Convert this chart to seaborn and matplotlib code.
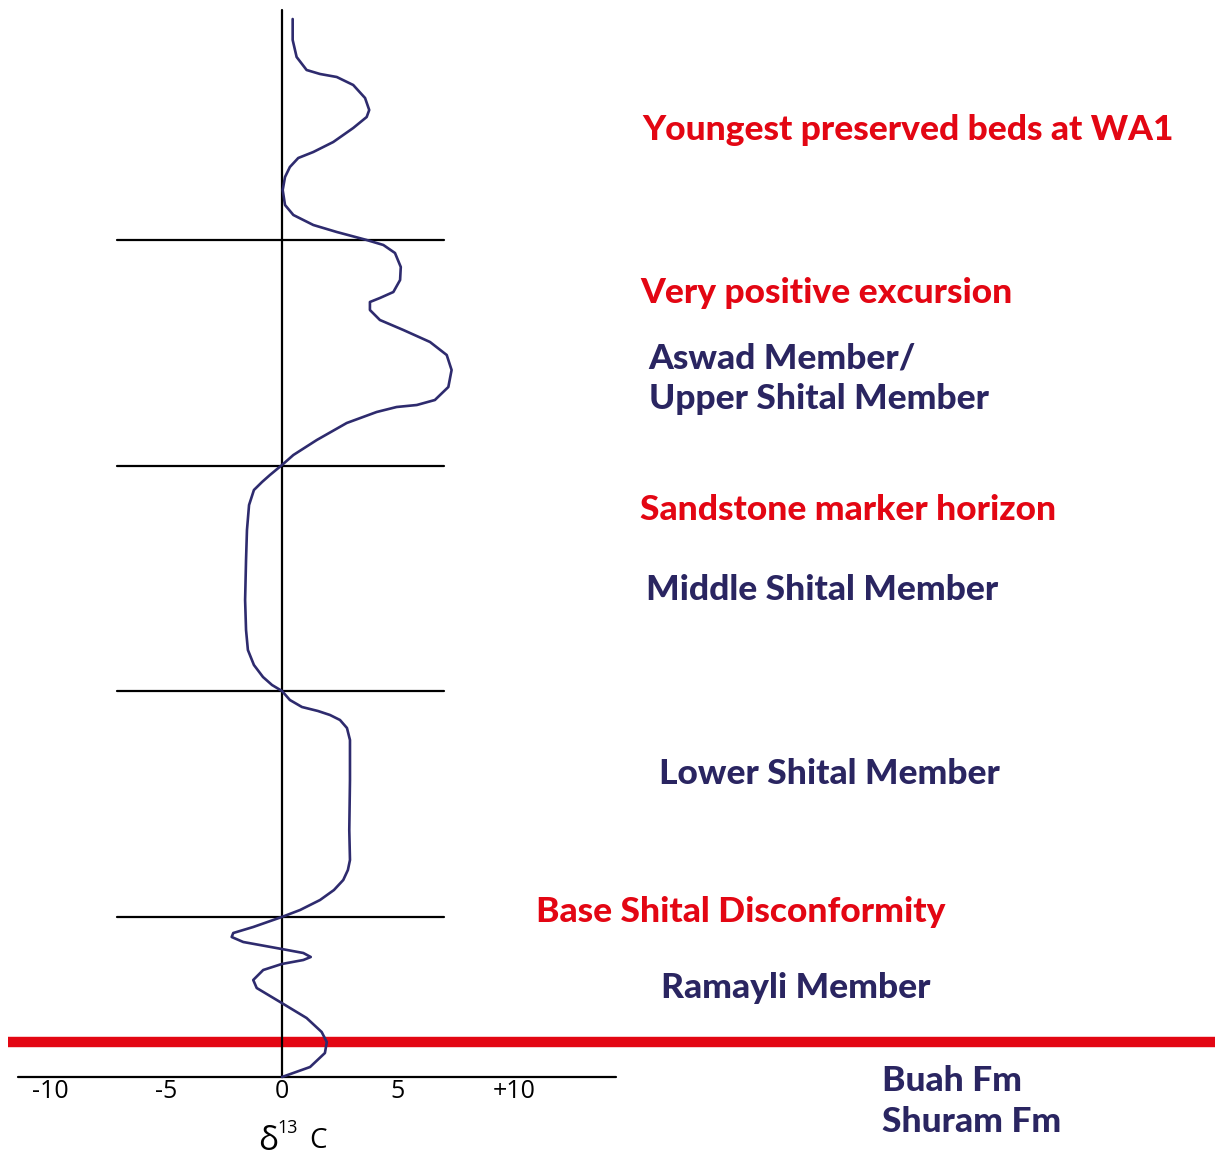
import matplotlib
matplotlib.use("Agg")
import matplotlib.pyplot as plt
import seaborn as sns
import pandas as pd

sns.set_theme(style="white")
plt.rcParams['font.family'] = ['Lato', 'DejaVu Sans']

# d13C curve (permil) vs stratigraphic height (arbitrary units), read top to bottom
d13c = [0.46, 0.46, 0.63, 1.06, 1.64, 2.36, 3.07, 3.58, 3.76, 3.65, 3.07, 2.21, 1.35,
        0.70, 0.34, 0.13, 0.03, 0.13, 0.49, 1.35, 2.36, 3.65, 4.37, 4.87, 5.12, 5.09,
        4.80, 4.22, 3.79, 3.79, 4.22, 5.23, 6.38, 7.10, 7.31, 7.17, 6.59, 5.81, 4.94,
        4.08, 2.79, 1.50, 0.49, 0.00, -0.52, -0.86, -1.21, -1.42, -1.51, -1.55, -1.59,
        -1.55, -1.47, -1.21, -0.82, -0.43, 0.00, 0.34, 0.86, 1.55, 2.07, 2.50, 2.80,
        2.93, 2.93, 2.90, 2.93, 2.84, 2.64, 2.24, 1.64, 0.78, -0.01, -1.24, -2.10,
        -2.17, -1.67, -0.01, 0.92, 1.24, 0.92, -0.01, -0.81, -1.24, -1.09, -0.01,
        1.06, 1.71, 1.93, 1.85, 1.21, 0.00]
height = [105.8, 103.7, 102.0, 100.7, 100.3, 100.0, 99.2, 97.9, 96.7, 96.0, 94.9, 93.5, 92.5,
          91.9, 91.0, 90.0, 88.7, 87.2, 86.2, 85.2, 84.5, 83.7, 83.2, 82.4, 81.0, 79.7,
          78.5, 77.9, 77.5, 76.7, 75.7, 74.7, 73.5, 72.2, 70.7, 69.0, 67.7, 67.2, 67.0,
          66.5, 65.4, 63.7, 62.2, 61.2, 60.2, 59.5, 58.7, 57.2, 54.7, 51.7, 47.7,
          44.7, 42.7, 41.2, 40.0, 39.2, 38.6, 37.7, 37.0, 36.6, 36.2, 35.7, 34.9,
          33.7, 29.7, 24.7, 21.7, 20.7, 19.7, 18.7, 17.7, 16.7, 16.0, 15.0, 14.4,
          14.0, 13.5, 12.8, 12.4, 12.0, 11.7, 11.3, 10.7, 9.7, 8.9, 7.4,
          5.9, 4.5, 3.5, 2.4, 1.0, 0.0]

horizons = [83.7, 61.1, 38.6, 16.0]
base_line = 3.5
tick_vals = [-10, -5, 0, 5, 10]
tick_labels = ["-10", "-5", "0", "5", "+10"]

# label text, colour key, x, y
labels = [
    ("Youngest preserved beds at WA1", "red", 15.55, 94.7),
    ("Very positive excursion", "red", 15.45, 78.4),
    ("Aswad Member/", "navy", 15.8, 71.9),
    ("Upper Shital Member", "navy", 15.8, 67.8),
    ("Sandstone marker horizon", "red", 15.45, 56.7),
    ("Middle Shital Member", "navy", 15.7, 48.7),
    ("Lower Shital Member", "navy", 16.25, 30.3),
    ("Base Shital Disconformity", "red", 10.95, 16.5),
    ("Ramayli Member", "navy", 16.35, 8.9),
    ("Buah Fm", "navy", 25.85, -0.4),
    ("Shuram Fm", "navy", 25.85, -4.5),
]

RED = "#E30613"
NAVY = "#2A2561"
CURVE = "#2E2B6E"

fig = plt.figure(figsize=(12.23, 11.60), dpi=100)
ax = fig.add_axes([0, 0, 1, 1])
ax.set_xlim(-12.155, 40.56)
ax.set_ylim(-8.3, 107.7)
ax.axis("off")

# red boundary line
ax.plot([-11.8, 40.2], [base_line, base_line], color=RED, lw=7.5, solid_capstyle="butt", zorder=1)
# horizons
for h in horizons:
    ax.plot([-7.1, 7.0], [h, h], color="black", lw=1.6, zorder=2)
# axes lines
ax.plot([-11.4, 14.4], [0, 0], color="black", lw=1.6, zorder=2)
ax.plot([0, 0], [0, 106.7], color="black", lw=1.6, zorder=2)

df = pd.DataFrame({"d13c": d13c, "height": height})
sns.lineplot(data=df, x="d13c", y="height", sort=False, estimator=None, ax=ax,
             color=CURVE, lw=1.9, zorder=3)
for ln in ax.lines[-1:]:
    ln.set_solid_joinstyle("round")
    ln.set_solid_capstyle("round")
ax.set_xlabel("")
ax.set_ylabel("")

for v, t in zip(tick_vals, tick_labels):
    ax.text(v, -1.5, t, ha="center", va="center", fontsize=18, color="black",
            family=['Open Sans', 'DejaVu Sans'])

ax.text(-0.6, -6.5, "δ", ha="center", va="center", fontsize=24, color="black",
        family=['Open Sans', 'DejaVu Sans'])
ax.text(0.25, -5.1, "13", ha="center", va="center", fontsize=13, color="black",
        family=['Open Sans', 'DejaVu Sans'])
ax.text(1.55, -6.4, "C", ha="center", va="center", fontsize=20, color="black",
        family=['Open Sans', 'DejaVu Sans'])

for text, ck, x, y in labels:
    ax.text(x, y, text, ha="left", va="center", fontsize=25.5, fontweight="black",
            color=RED if ck == "red" else NAVY)

fig.savefig("out.png", dpi=100)
